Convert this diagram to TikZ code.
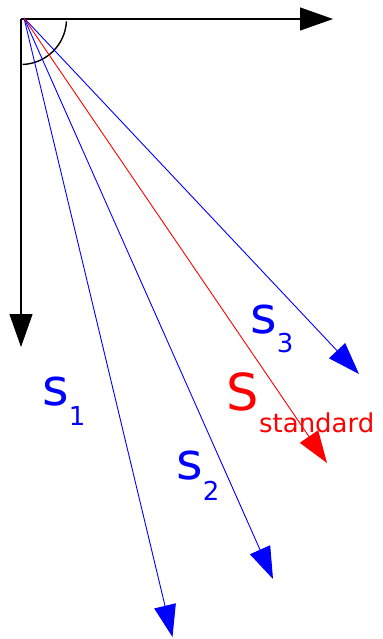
\documentclass[tikz,border=0pt]{standalone}
\usepackage{fontspec}
\setmainfont{DejaVu Sans}
\usepackage{xcolor}
\definecolor{vecblue}{HTML}{0000FF}
\definecolor{vecred}{HTML}{FF0000}
\usetikzlibrary{arrows.meta}
\newcommand{\subtxt}[2]{\raisebox{-#1}{\fontsize{26bp}{28bp}\selectfont #2}}

\begin{document}
\begin{tikzpicture}[x=1bp, y=-1bp,
    axis/.style={line width=1.1bp, -{Triangle[length=33bp, width=23bp]}},
    ray/.style={line width=0.9bp, -{Triangle[length=32bp, width=22bp]}},
    lbl/.style={anchor=base west, inner sep=0pt, font=\fontsize{51bp}{53bp}\selectfont}]
  \useasboundingbox (0,0) rectangle (382,639);
  \coordinate (o)    at (21,19);
  \coordinate (src)  at (24,18);
  \coordinate (xtip) at (333,19);
  \coordinate (ytip) at (21,347);
  \coordinate (t1)   at (172.5,637);
  \coordinate (t2)   at (273,579);
  \coordinate (t3)   at (359,374);
  \coordinate (tstd) at (327,463);
  % axes and angle
  \draw[axis] (o) -- (xtip);
  \draw[axis] (o) -- (ytip);
  \draw[line width=1.4bp] (o) ++(3:45.5) arc[start angle=3, end angle=88, radius=45.5];
  % rays
  \draw[ray, vecblue] (src) -- (t1);
  \draw[ray, vecblue] (src) -- (t2);
  \draw[ray, vecblue] (src) -- (t3);
  \draw[ray, vecred]  (src) -- (tstd);
  % labels
  \node[lbl, vecblue] (s1) at (42,405) {s\subtxt{20bp}{1}};
  \node[lbl, vecblue] (s2) at (176,479) {s\subtxt{21bp}{2}};
  \node[lbl, vecblue] (s3) at (250,333) {s\subtxt{19bp}{3}};
  \node[lbl, vecred] (sstd) at (226.5,410) {S\subtxt{22bp}{standard}};
\end{tikzpicture}
\end{document}
